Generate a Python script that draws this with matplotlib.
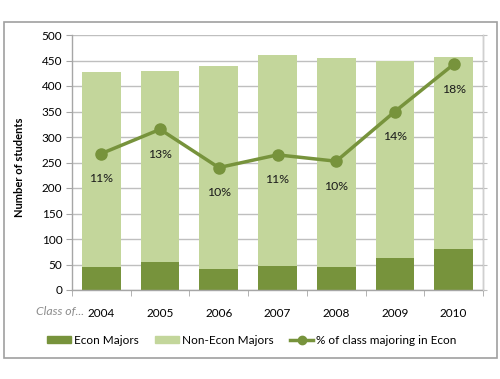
import matplotlib
matplotlib.use("Agg")
import matplotlib.pyplot as plt
from matplotlib.patches import Rectangle
from matplotlib.lines import Line2D
import numpy as np

plt.rcParams['font.family'] = ['Lato', 'DejaVu Sans']

years = ['2004', '2005', '2006', '2007', '2008', '2009', '2010']
econ = [46, 54, 42, 48, 45, 62, 80]
non_econ = [382, 375, 398, 413, 410, 387, 376]
pct = [0.107, 0.126, 0.096, 0.106, 0.101, 0.140, 0.177]

dark = '#77933C'
light = '#C3D69B'
grid_c = '#BFBFBF'
axis_c = '#A6A6A6'
fs = 8.5

W, H = 500, 379
fig = plt.figure(figsize=(5, 3.79), dpi=100)

# outer chart frame
fig.patches.append(Rectangle((3.5 / W, 1 - 358 / H), 493 / W, 336 / H,
                             transform=fig.transFigure, fill=False,
                             edgecolor='#A0A0A0', linewidth=1.2))

ax = fig.add_axes([72 / W, 1 - 290 / H, (483 - 72) / W, (290 - 35) / H])
x = np.arange(len(years))
ax.bar(x, econ, width=0.66, color=dark, zorder=2, label='Econ Majors')
ax.bar(x, non_econ, width=0.66, bottom=econ, color=light, zorder=2,
       label='Non-Econ Majors')
ax.set_xlim(-0.5, len(years) - 0.5)
ax.set_ylim(0, 500)
ax.set_yticks(range(0, 501, 50))
ax.yaxis.grid(True, color=grid_c, linewidth=1.0, zorder=0)
ax.set_axisbelow(True)
ax.set_xticks(x)
ax.set_xticklabels(years, fontsize=fs)
ax.set_xticks(np.arange(-0.5, len(years), 1.0), minor=True)
ax.tick_params(axis='x', which='major', length=0, pad=13)
ax.tick_params(axis='x', which='minor', length=4, color=axis_c)
ax.tick_params(axis='y', length=4, color=axis_c, labelsize=fs, pad=3)
ax.spines['top'].set_visible(False)
for s in ['left', 'bottom', 'right']:
    ax.spines[s].set_color(axis_c)
    ax.spines[s].set_linewidth(1.0)
ax.set_ylabel('Number of students', fontsize=8, fontweight='bold', labelpad=9)
ax.yaxis.set_label_coords(-0.115, 0.48)

ax2 = ax.twinx()
ax2.set_ylim(0, 0.2)
ax2.set_yticks(np.arange(0, 0.2001, 0.02))
ax2.set_yticklabels([])
ax2.tick_params(axis='y', length=3, color=grid_c)
for s in ['top', 'left', 'bottom']:
    ax2.spines[s].set_visible(False)
ax2.spines['right'].set_color('#D0D0D0')
ax2.plot(x, pct, color=dark, linewidth=2.5, marker='o', markersize=8,
         zorder=5)
for xi, p in zip(x, pct):
    ax2.annotate(f'{p:.0%}', (xi, p), xytext=(0, -18), textcoords='offset points',
                 ha='center', va='center', fontsize=8.8, color='#1a1a1a')

fig.text(84 / W, 1 - 311 / H, 'Class of...', ha='right', va='center',
         fontsize=8.8, style='italic', color='#8C8C8C')

handles = [Rectangle((0, 0), 1, 1, color=dark),
           Rectangle((0, 0), 1, 1, color=light),
           Line2D([0], [0], color=dark, linewidth=2.5, marker='o', markersize=6)]
fig.legend(handles, ['Econ Majors', 'Non-Econ Majors', '% of class majoring in Econ'],
           loc='center', bbox_to_anchor=(252 / W, 1 - 340 / H), ncol=3,
           frameon=False, fontsize=fs, handlelength=2.0, handleheight=0.6,
           columnspacing=1.4, handletextpad=0.25)

fig.savefig('out.png', dpi=100)
